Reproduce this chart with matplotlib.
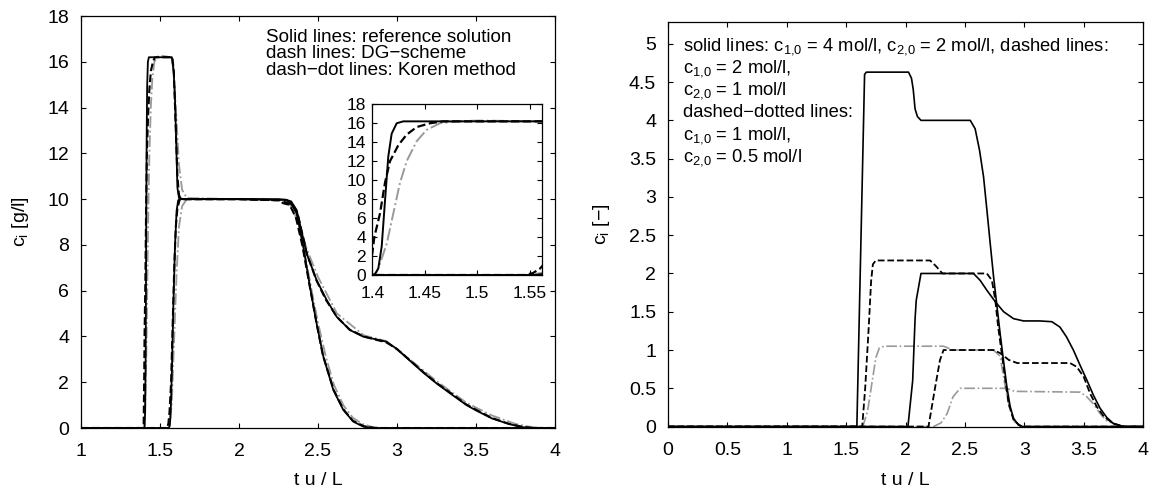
import matplotlib
matplotlib.use("Agg")
import matplotlib.pyplot as plt

plt.rcParams['font.family'] = ['Liberation Sans', 'DejaVu Sans']
plt.rcParams['mathtext.fontset'] = 'custom'
plt.rcParams['mathtext.rm'] = 'Liberation Sans'
plt.rcParams['mathtext.it'] = 'Liberation Sans:italic'

# ---- left panel: two components, three methods ----
ref1_t = [1.0, 1.40, 1.4025, 1.4057, 1.4089, 1.4121, 1.4152, 1.4184, 1.4232, 1.4295, 1.50, 1.575, 1.587,
          1.595, 1.602, 1.61, 1.62, 1.65, 2.0, 2.25, 2.30, 2.33, 2.365, 2.407, 2.449, 2.491, 2.534, 2.597,
          2.66, 2.723, 2.787, 2.85, 4.0]
ref1_c = [0, 0, 0.1, 0.7, 3.0, 7.9, 12.5, 14.9, 16.0, 16.2, 16.2, 16.2, 15.5,
          14.3, 12.6, 10.5, 10.05, 10.0, 10.0, 10.0, 9.97, 9.8, 9.37, 7.92, 6.17, 4.57, 3.11, 1.66,
          0.79, 0.28, 0.06, 0.0, 0.0]
ref2_t = [1.0, 1.555, 1.562, 1.568, 1.575, 1.585, 1.595, 1.605, 1.615, 1.625, 2.0, 2.30, 2.33, 2.365, 2.428,
          2.491, 2.555, 2.618, 2.702, 2.787, 2.871, 2.934, 3.0, 3.08, 3.17, 3.25, 3.335, 3.44, 3.5, 3.6,
          3.71, 3.8, 3.86, 4.0]
ref2_c = [0, 0, 0.1, 0.8, 2.5, 5.5, 8.0, 9.5, 9.95, 10.0, 10.0, 9.97, 9.9, 9.52, 7.63,
          6.46, 5.59, 4.86, 4.28, 3.99, 3.87, 3.77, 3.45, 2.95, 2.4, 1.95, 1.52, 1.0, 0.77, 0.42,
          0.17, 0.03, 0.0, 0.0]

dg1_t = [1.0, 1.396, 1.40, 1.4019, 1.4073, 1.412, 1.4168, 1.4248, 1.4327, 1.4422, 1.455, 1.4676, 1.50,
         1.578, 1.587, 1.60, 1.61, 1.62, 1.63, 2.0, 2.25, 2.28, 2.32, 2.36, 2.40, 2.45, 2.49, 2.53, 2.60,
         2.66, 2.72, 2.79, 2.86, 4.0]
dg1_c = [0, 0, 2.3, 4.0, 6.5, 9.7, 12.0, 13.7, 14.8, 15.6, 16.0, 16.2, 16.2,
         16.2, 15.6, 13.0, 11.0, 10.2, 10.0, 10.0, 9.95, 9.82, 9.75, 9.2, 8.0, 6.1, 4.6, 3.2, 1.65,
         0.82, 0.32, 0.08, 0.0, 0.0]
dg2_t = [1.0, 1.545, 1.553, 1.56, 1.57, 1.58, 1.59, 1.60, 1.61, 1.625, 2.0, 2.26, 2.30, 2.34, 2.37, 2.43,
         2.49, 2.55, 2.62, 2.70, 2.79, 2.87, 2.93, 3.0, 3.08, 3.17, 3.25, 3.34, 3.44, 3.5, 3.6, 3.71,
         3.8, 3.87, 4.0]
dg2_c = [0, 0, 0.2, 0.7, 2.0, 4.5, 7.0, 8.8, 9.6, 10.0, 10.0, 9.95, 9.85, 9.75, 9.4, 7.6,
         6.45, 5.6, 4.85, 4.3, 4.0, 3.85, 3.75, 3.45, 2.97, 2.42, 1.97, 1.53, 1.02, 0.8, 0.44, 0.18,
         0.04, 0.0, 0.0]

kor1_t = [1.0, 1.401, 1.404, 1.4073, 1.4137, 1.42, 1.4263, 1.4327, 1.4422, 1.4517, 1.4644, 1.4803, 1.50,
          1.57, 1.585, 1.60, 1.62, 1.64, 1.67, 2.0, 2.30, 2.34, 2.38, 2.42, 2.46, 2.50, 2.55, 2.60, 2.66,
          2.72, 2.78, 2.84, 2.90, 4.0]
kor1_c = [0, 0, 0.3, 1.2, 3.3, 6.5, 9.7, 12.0, 14.1, 15.3, 16.0, 16.2, 16.28,
          16.2, 15.8, 14.0, 11.5, 10.4, 10.05, 10.0, 9.95, 9.6, 8.8, 7.5, 6.0, 4.6, 3.1, 1.9, 1.0,
          0.45, 0.18, 0.05, 0.0, 0.0]
kor2_t = [1.0, 1.55, 1.565, 1.575, 1.59, 1.605, 1.62, 1.64, 1.67, 2.0, 2.30, 2.35, 2.43, 2.50, 2.62,
          2.79, 2.93, 3.08, 3.25, 3.44, 3.6, 3.75, 3.85, 3.93, 4.0]
kor2_c = [0, 0, 0.3, 1.2, 4.0, 6.8, 8.8, 9.7, 10.0, 10.0, 9.95, 9.6, 7.8, 6.6, 5.0,
          4.05, 3.8, 3.0, 2.05, 1.1, 0.55, 0.18, 0.04, 0.0, 0.0]

left_notes = ["Solid lines: reference solution", "dash lines: DG\u2212scheme", "dash\u2212dot lines: Koren method"]

# ---- right panel: three feed concentrations ----
s4_1_t = [0, 1.59, 1.655, 1.67, 2.025, 2.05, 2.065, 2.08, 2.10, 2.13, 2.545, 2.586, 2.623, 2.657, 2.685,
          2.713, 2.741, 2.77, 2.796, 2.824, 2.853, 2.881, 2.909, 2.95, 2.99, 4.0]
s4_1_c = [0, 0, 4.6, 4.63, 4.63, 4.55, 4.4, 4.15, 4.05, 4.0, 4.0, 3.89, 3.61, 3.26, 2.83,
          2.39, 1.96, 1.57, 1.22, 0.87, 0.52, 0.26, 0.11, 0.02, 0.0, 0.0]
s4_2_t = [0, 2.02, 2.06, 2.08, 2.09, 2.13, 2.572, 2.628, 2.685, 2.756, 2.826, 2.909, 2.994, 3.13, 3.232,
          3.3, 3.356, 3.413, 3.47, 3.526, 3.582, 3.638, 3.694, 3.75, 3.84, 4.0]
s4_2_c = [0, 0, 0.6, 1.4, 1.65, 2.0, 2.0, 1.91, 1.78, 1.63, 1.50, 1.41, 1.38, 1.38, 1.37,
          1.30, 1.17, 1.0, 0.80, 0.61, 0.41, 0.24, 0.12, 0.04, 0.0, 0.0]
d2_1_t = [0, 1.635, 1.66, 1.69, 1.71, 1.725, 1.75, 2.207, 2.26, 2.31, 2.685, 2.727, 2.756, 2.78, 2.81,
          2.84, 2.868, 2.909, 2.965, 3.0, 4.0]
d2_1_c = [0, 0, 0.5, 1.3, 1.9, 2.12, 2.17, 2.17, 2.09, 2.0, 2.0, 1.91, 1.65, 1.3, 0.96,
          0.61, 0.30, 0.09, 0.01, 0.0, 0.0]
d2_2_t = [0, 2.193, 2.25, 2.29, 2.32, 2.741, 2.796, 2.87, 2.94, 3.385, 3.442, 3.5, 3.555, 3.61, 3.67,
          3.75, 3.84, 4.0]
d2_2_c = [0, 0, 0.52, 0.87, 1.0, 1.0, 0.96, 0.87, 0.83, 0.83, 0.78, 0.65, 0.43, 0.26, 0.13,
          0.04, 0.0, 0.0]
dd1_1_t = [0, 1.64, 1.68, 1.72, 1.75, 1.78, 1.82, 2.32, 2.40, 2.74, 2.796, 2.82, 2.85, 2.88, 2.92,
           2.99, 4.0]
dd1_1_c = [0, 0, 0.2, 0.6, 0.9, 1.03, 1.05, 1.05, 1.0, 1.0, 0.92, 0.70, 0.43, 0.22, 0.06,
           0.0, 0.0]
dd1_2_t = [0, 2.236, 2.30, 2.35, 2.40, 2.46, 2.85, 2.92, 3.47, 3.526, 3.58, 3.638, 3.69, 3.78, 3.87, 4.0]
dd1_2_c = [0, 0, 0.05, 0.17, 0.39, 0.50, 0.50, 0.46, 0.45, 0.39, 0.30, 0.17, 0.08, 0.02, 0.0, 0.0]

right_notes = ["solid lines: c$_\\mathregular{1{,}0}$ = 4 mol/l, c$_\\mathregular{2{,}0}$ = 2 mol/l, dashed lines:",
               "c$_\\mathregular{1{,}0}$ = 2 mol/l,",
               "c$_\\mathregular{2{,}0}$ = 1 mol/l",
               "dashed\u2212dotted lines:",
               "c$_\\mathregular{1{,}0}$ = 1 mol/l,",
               "c$_\\mathregular{2{,}0}$ = 0.5 mol/l"]

left_xticks = [1, 1.5, 2, 2.5, 3, 3.5, 4]
left_yticks = [0, 2, 4, 6, 8, 10, 12, 14, 16, 18]
right_xticks = [0, 0.5, 1, 1.5, 2, 2.5, 3, 3.5, 4]
right_yticks = [0, 0.5, 1, 1.5, 2, 2.5, 3, 3.5, 4, 4.5, 5]
inset_xticks = [1.4, 1.45, 1.5, 1.55]

GREY = '0.6'


def fmt(v):
    return ('%g' % v)


def style(ax, size, xpad, ypad):
    ax.tick_params(direction='in', top=True, right=True, length=3.6, width=0.8, labelsize=size)
    ax.tick_params(axis='x', pad=xpad)
    ax.tick_params(axis='y', pad=ypad)
    for s in ax.spines.values():
        s.set_linewidth(0.9)


def draw_left(ax, lw=1.3):
    ax.plot(kor1_t, kor1_c, color=GREY, ls='-.', lw=lw)
    ax.plot(kor2_t, kor2_c, color=GREY, ls='-.', lw=lw)
    ax.plot(dg1_t, dg1_c, color='k', ls='--', lw=lw + 0.2)
    ax.plot(dg2_t, dg2_c, color='k', ls='--', lw=lw + 0.2)
    ax.plot(ref1_t, ref1_c, color='k', ls='-', lw=lw)
    ax.plot(ref2_t, ref2_c, color='k', ls='-', lw=lw)


fig = plt.figure(figsize=(11.51, 4.91), dpi=100)

ax1 = fig.add_axes([0.0704, 0.1283, 0.4118, 0.839])
draw_left(ax1)
ax1.set_xlim(1, 4)
ax1.set_ylim(0, 18)
ax1.set_xticks(left_xticks)
ax1.set_xticklabels([fmt(v) for v in left_xticks])
ax1.set_yticks(left_yticks)
ax1.set_yticklabels([fmt(v) for v in left_yticks])
style(ax1, 14, 11, 8.5)
ax1.set_xlabel('t u / L', fontsize=14)
ax1.xaxis.set_label_coords(0.5, -0.108)
ax1.set_ylabel('c$_\\mathregular{i}$ [g/l]', fontsize=14)
ax1.yaxis.set_label_coords(-0.105, 0.5)
for i, line in enumerate(left_notes):
    ax1.text(0.39, 0.938 - i * 0.0405, line, transform=ax1.transAxes, fontsize=13.6, va='baseline')

ins = fig.add_axes([0.3235, 0.4399, 0.1477, 0.3477])
draw_left(ins, lw=1.4)
ins.set_xlim(1.4, 1.562)
ins.set_ylim(0, 18)
ins.set_xticks(inset_xticks)
ins.set_xticklabels([fmt(v) for v in inset_xticks])
ins.set_yticks(left_yticks)
ins.set_yticklabels([fmt(v) for v in left_yticks])
style(ins, 12.5, 8, 4.5)

ax2 = fig.add_axes([0.5804, 0.1312, 0.4127, 0.824])
ax2.plot(dd1_1_t, dd1_1_c, color=GREY, ls='-.', lw=1.2)
ax2.plot(dd1_2_t, dd1_2_c, color=GREY, ls='-.', lw=1.2)
ax2.plot(d2_1_t, d2_1_c, color='k', ls='--', lw=1.3)
ax2.plot(d2_2_t, d2_2_c, color='k', ls='--', lw=1.3)
ax2.plot(s4_1_t, s4_1_c, color='k', ls='-', lw=1.2)
ax2.plot(s4_2_t, s4_2_c, color='k', ls='-', lw=1.2)
ax2.set_xlim(0, 4)
ax2.set_ylim(0, 5.285)
ax2.set_xticks(right_xticks)
ax2.set_xticklabels([fmt(v) for v in right_xticks])
ax2.set_yticks(right_yticks)
ax2.set_yticklabels([fmt(v) for v in right_yticks])
style(ax2, 14, 11, 8.5)
ax2.set_xlabel('t u / L', fontsize=14)
ax2.xaxis.set_label_coords(0.5, -0.113)
ax2.set_ylabel('c$_\\mathregular{i}$ [\u2212]', fontsize=14)
ax2.yaxis.set_label_coords(-0.118, 0.5)
right_base = [0.929, 0.875, 0.821, 0.765, 0.710, 0.656]
for y, line in zip(right_base, right_notes):
    ax2.text(0.031, y, line, transform=ax2.transAxes, fontsize=13.2, va='baseline')

fig.savefig('out.png', dpi=100)
